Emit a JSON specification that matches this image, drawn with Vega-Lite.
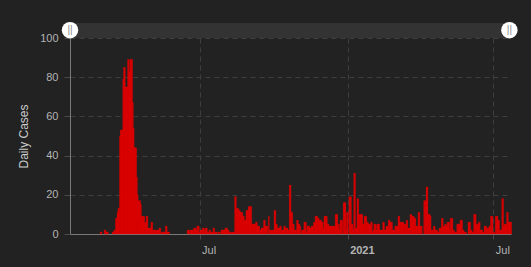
{
  "$schema": "https://vega.github.io/schema/vega-lite/v6.json",
  "width": 441,
  "height": 196,
  "autosize": {"type": "none"},
  "padding": {"left": 70, "top": 38, "right": 20, "bottom": 33},
  "background": "#222222",
  "config": {
    "view": {"stroke": null},
    "axis": {
      "labelFont": "Liberation Sans",
      "labelFontSize": 11,
      "labelColor": "#b4b4b4",
      "gridColor": "#3e3e3e",
      "gridDash": [5, 4],
      "tickColor": "#4a4a4a",
      "domainColor": "#7a7a7a",
      "titleFont": "Liberation Sans",
      "labelOverlap": false
    },
    "axisY": {
      "title": "Daily Cases",
      "values": [0, 20, 40, 60, 80, 100],
      "grid": true,
      "tickSize": 6,
      "labelPadding": 6,
      "titleColor": "#cccccc",
      "titleFontSize": 12,
      "titleFontWeight": "normal",
      "titlePadding": 9
    }
  },
  "layer": [
    {
      "data": {"values": [
        {"date":"2020-02-28","cases":1},{"date":"2020-02-29","cases":1},
        {"date":"2020-03-04","cases":2},{"date":"2020-03-05","cases":2},{"date":"2020-03-06","cases":1},{"date":"2020-03-07","cases":1},{"date":"2020-03-08","cases":1},{"date":"2020-03-14","cases":1},{"date":"2020-03-15","cases":1},{"date":"2020-03-16","cases":2},{"date":"2020-03-17","cases":2},{"date":"2020-03-18","cases":8},{"date":"2020-03-19","cases":8},{"date":"2020-03-20","cases":11},{"date":"2020-03-21","cases":13},{"date":"2020-03-22","cases":13},{"date":"2020-03-23","cases":50},{"date":"2020-03-24","cases":53},{"date":"2020-03-25","cases":53},{"date":"2020-03-26","cases":53},{"date":"2020-03-27","cases":79},{"date":"2020-03-28","cases":85},{"date":"2020-03-29","cases":85},{"date":"2020-03-30","cases":75},{"date":"2020-03-31","cases":75},
        {"date":"2020-04-01","cases":75},{"date":"2020-04-02","cases":89},{"date":"2020-04-03","cases":89},{"date":"2020-04-04","cases":83},{"date":"2020-04-05","cases":89},{"date":"2020-04-06","cases":89},{"date":"2020-04-07","cases":89},{"date":"2020-04-08","cases":67},{"date":"2020-04-09","cases":54},{"date":"2020-04-10","cases":44},{"date":"2020-04-11","cases":44},{"date":"2020-04-12","cases":44},{"date":"2020-04-13","cases":29},{"date":"2020-04-14","cases":20},{"date":"2020-04-15","cases":17},{"date":"2020-04-16","cases":17},{"date":"2020-04-17","cases":17},{"date":"2020-04-18","cases":15},{"date":"2020-04-19","cases":9},{"date":"2020-04-20","cases":9},{"date":"2020-04-21","cases":9},{"date":"2020-04-22","cases":9},{"date":"2020-04-23","cases":6},{"date":"2020-04-24","cases":6},{"date":"2020-04-25","cases":9},{"date":"2020-04-26","cases":9},{"date":"2020-04-27","cases":3},{"date":"2020-04-28","cases":3},{"date":"2020-04-29","cases":3},{"date":"2020-04-30","cases":3},
        {"date":"2020-05-01","cases":6},{"date":"2020-05-02","cases":6},{"date":"2020-05-03","cases":2},{"date":"2020-05-04","cases":2},{"date":"2020-05-05","cases":2},{"date":"2020-05-06","cases":2},{"date":"2020-05-07","cases":2},{"date":"2020-05-08","cases":2},{"date":"2020-05-09","cases":2},{"date":"2020-05-10","cases":2},{"date":"2020-05-11","cases":3},{"date":"2020-05-12","cases":3},{"date":"2020-05-14","cases":1},{"date":"2020-05-15","cases":1},{"date":"2020-05-16","cases":1},{"date":"2020-05-17","cases":1},{"date":"2020-05-18","cases":1},{"date":"2020-05-19","cases":4},{"date":"2020-05-20","cases":4},{"date":"2020-05-21","cases":1},{"date":"2020-05-22","cases":1},{"date":"2020-05-23","cases":1},
        {"date":"2020-06-15","cases":2},{"date":"2020-06-16","cases":2},{"date":"2020-06-17","cases":1},{"date":"2020-06-18","cases":2},{"date":"2020-06-19","cases":2},{"date":"2020-06-20","cases":2},{"date":"2020-06-21","cases":2},{"date":"2020-06-22","cases":2},{"date":"2020-06-23","cases":3},{"date":"2020-06-24","cases":3},{"date":"2020-06-25","cases":3},{"date":"2020-06-26","cases":2},{"date":"2020-06-27","cases":4},{"date":"2020-06-28","cases":4},{"date":"2020-06-29","cases":4},{"date":"2020-06-30","cases":1},
        {"date":"2020-07-01","cases":2},{"date":"2020-07-02","cases":2},{"date":"2020-07-03","cases":2},{"date":"2020-07-04","cases":3},{"date":"2020-07-05","cases":3},{"date":"2020-07-06","cases":2},{"date":"2020-07-07","cases":3},{"date":"2020-07-08","cases":3},{"date":"2020-07-09","cases":3},{"date":"2020-07-10","cases":1},{"date":"2020-07-11","cases":1},{"date":"2020-07-12","cases":2},{"date":"2020-07-13","cases":2},{"date":"2020-07-14","cases":1},{"date":"2020-07-15","cases":1},{"date":"2020-07-16","cases":1},{"date":"2020-07-17","cases":3},{"date":"2020-07-18","cases":3},{"date":"2020-07-19","cases":1},{"date":"2020-07-20","cases":1},{"date":"2020-07-21","cases":1},{"date":"2020-07-23","cases":1},{"date":"2020-07-24","cases":1},{"date":"2020-07-25","cases":1},{"date":"2020-07-27","cases":2},{"date":"2020-07-28","cases":2},{"date":"2020-07-29","cases":2},{"date":"2020-07-30","cases":2},{"date":"2020-07-31","cases":2},
        {"date":"2020-08-01","cases":3},{"date":"2020-08-02","cases":3},{"date":"2020-08-03","cases":3},{"date":"2020-08-04","cases":2},{"date":"2020-08-05","cases":2},{"date":"2020-08-06","cases":1},{"date":"2020-08-07","cases":1},{"date":"2020-08-08","cases":1},{"date":"2020-08-10","cases":1},{"date":"2020-08-11","cases":1},{"date":"2020-08-12","cases":1},{"date":"2020-08-13","cases":19},{"date":"2020-08-14","cases":19},{"date":"2020-08-15","cases":13},{"date":"2020-08-16","cases":13},{"date":"2020-08-17","cases":13},{"date":"2020-08-18","cases":12},{"date":"2020-08-19","cases":12},{"date":"2020-08-20","cases":11},{"date":"2020-08-21","cases":11},{"date":"2020-08-22","cases":11},{"date":"2020-08-23","cases":9},{"date":"2020-08-24","cases":9},{"date":"2020-08-25","cases":7},{"date":"2020-08-26","cases":7},{"date":"2020-08-27","cases":12},{"date":"2020-08-28","cases":12},{"date":"2020-08-29","cases":12},{"date":"2020-08-30","cases":14},{"date":"2020-08-31","cases":14},
        {"date":"2020-09-01","cases":14},{"date":"2020-09-02","cases":14},{"date":"2020-09-03","cases":5},{"date":"2020-09-04","cases":5},{"date":"2020-09-05","cases":5},{"date":"2020-09-06","cases":5},{"date":"2020-09-07","cases":5},{"date":"2020-09-08","cases":6},{"date":"2020-09-09","cases":6},{"date":"2020-09-10","cases":4},{"date":"2020-09-11","cases":4},{"date":"2020-09-12","cases":4},{"date":"2020-09-13","cases":2},{"date":"2020-09-14","cases":2},{"date":"2020-09-15","cases":3},{"date":"2020-09-16","cases":3},{"date":"2020-09-17","cases":3},{"date":"2020-09-18","cases":7},{"date":"2020-09-19","cases":7},{"date":"2020-09-20","cases":4},{"date":"2020-09-21","cases":4},{"date":"2020-09-22","cases":4},{"date":"2020-09-24","cases":9},{"date":"2020-09-25","cases":2},{"date":"2020-09-26","cases":2},{"date":"2020-09-27","cases":2},{"date":"2020-09-28","cases":2},{"date":"2020-09-29","cases":2},{"date":"2020-09-30","cases":2},
        {"date":"2020-10-01","cases":12},{"date":"2020-10-02","cases":12},{"date":"2020-10-03","cases":5},{"date":"2020-10-04","cases":5},{"date":"2020-10-05","cases":3},{"date":"2020-10-06","cases":3},{"date":"2020-10-07","cases":3},{"date":"2020-10-08","cases":4},{"date":"2020-10-09","cases":4},{"date":"2020-10-10","cases":2},{"date":"2020-10-11","cases":2},{"date":"2020-10-12","cases":2},{"date":"2020-10-13","cases":4},{"date":"2020-10-14","cases":4},{"date":"2020-10-15","cases":3},{"date":"2020-10-16","cases":3},{"date":"2020-10-17","cases":3},{"date":"2020-10-18","cases":2},{"date":"2020-10-19","cases":2},{"date":"2020-10-20","cases":25},{"date":"2020-10-21","cases":25},{"date":"2020-10-22","cases":11},{"date":"2020-10-23","cases":11},{"date":"2020-10-24","cases":5},{"date":"2020-10-25","cases":5},{"date":"2020-10-26","cases":2},{"date":"2020-10-27","cases":2},{"date":"2020-10-28","cases":2},{"date":"2020-10-29","cases":7},{"date":"2020-10-30","cases":7},{"date":"2020-10-31","cases":5},
        {"date":"2020-11-01","cases":5},{"date":"2020-11-02","cases":4},{"date":"2020-11-04","cases":2},{"date":"2020-11-05","cases":2},{"date":"2020-11-06","cases":2},{"date":"2020-11-07","cases":6},{"date":"2020-11-08","cases":6},{"date":"2020-11-09","cases":6},{"date":"2020-11-10","cases":1},{"date":"2020-11-11","cases":4},{"date":"2020-11-12","cases":4},{"date":"2020-11-13","cases":4},{"date":"2020-11-14","cases":3},{"date":"2020-11-15","cases":3},{"date":"2020-11-16","cases":4},{"date":"2020-11-17","cases":4},{"date":"2020-11-18","cases":4},{"date":"2020-11-19","cases":6},{"date":"2020-11-20","cases":6},{"date":"2020-11-21","cases":9},{"date":"2020-11-22","cases":9},{"date":"2020-11-23","cases":9},{"date":"2020-11-24","cases":8},{"date":"2020-11-25","cases":8},{"date":"2020-11-26","cases":7},{"date":"2020-11-27","cases":7},{"date":"2020-11-28","cases":7},{"date":"2020-11-29","cases":6},{"date":"2020-11-30","cases":6},
        {"date":"2020-12-01","cases":3},{"date":"2020-12-02","cases":9},{"date":"2020-12-03","cases":9},{"date":"2020-12-04","cases":9},{"date":"2020-12-05","cases":9},{"date":"2020-12-06","cases":5},{"date":"2020-12-07","cases":5},{"date":"2020-12-08","cases":4},{"date":"2020-12-09","cases":4},{"date":"2020-12-10","cases":4},{"date":"2020-12-11","cases":4},{"date":"2020-12-12","cases":4},{"date":"2020-12-13","cases":4},{"date":"2020-12-14","cases":4},{"date":"2020-12-15","cases":4},{"date":"2020-12-16","cases":10},{"date":"2020-12-17","cases":10},{"date":"2020-12-18","cases":10},{"date":"2020-12-19","cases":5},{"date":"2020-12-20","cases":5},{"date":"2020-12-21","cases":2},{"date":"2020-12-22","cases":7},{"date":"2020-12-23","cases":7},{"date":"2020-12-24","cases":7},{"date":"2020-12-26","cases":16},{"date":"2020-12-27","cases":16},{"date":"2020-12-28","cases":16},{"date":"2020-12-29","cases":2},{"date":"2020-12-30","cases":11},{"date":"2020-12-31","cases":11},
        {"date":"2021-01-02","cases":19},{"date":"2021-01-03","cases":19},{"date":"2021-01-04","cases":19},{"date":"2021-01-05","cases":5},{"date":"2021-01-06","cases":5},{"date":"2021-01-07","cases":2},{"date":"2021-01-08","cases":31},{"date":"2021-01-09","cases":31},{"date":"2021-01-10","cases":3},{"date":"2021-01-11","cases":3},{"date":"2021-01-12","cases":18},{"date":"2021-01-13","cases":18},{"date":"2021-01-14","cases":10},{"date":"2021-01-15","cases":10},{"date":"2021-01-16","cases":10},{"date":"2021-01-17","cases":10},{"date":"2021-01-18","cases":10},{"date":"2021-01-19","cases":5},{"date":"2021-01-20","cases":5},{"date":"2021-01-21","cases":9},{"date":"2021-01-22","cases":9},{"date":"2021-01-23","cases":9},{"date":"2021-01-24","cases":6},{"date":"2021-01-25","cases":6},{"date":"2021-01-26","cases":5},{"date":"2021-01-27","cases":5},{"date":"2021-01-28","cases":5},{"date":"2021-01-29","cases":6},{"date":"2021-01-30","cases":6},{"date":"2021-01-31","cases":1},
        {"date":"2021-02-01","cases":2},{"date":"2021-02-02","cases":5},{"date":"2021-02-03","cases":5},{"date":"2021-02-04","cases":5},{"date":"2021-02-05","cases":2},{"date":"2021-02-06","cases":5},{"date":"2021-02-07","cases":5},{"date":"2021-02-08","cases":5},{"date":"2021-02-09","cases":2},{"date":"2021-02-10","cases":2},{"date":"2021-02-11","cases":2},{"date":"2021-02-12","cases":2},{"date":"2021-02-13","cases":6},{"date":"2021-02-14","cases":6},{"date":"2021-02-15","cases":2},{"date":"2021-02-16","cases":2},{"date":"2021-02-17","cases":4},{"date":"2021-02-18","cases":4},{"date":"2021-02-19","cases":4},{"date":"2021-02-20","cases":7},{"date":"2021-02-21","cases":7},{"date":"2021-02-22","cases":6},{"date":"2021-02-23","cases":6},{"date":"2021-02-24","cases":6},{"date":"2021-02-25","cases":2},{"date":"2021-02-26","cases":2},{"date":"2021-02-27","cases":2},{"date":"2021-02-28","cases":4},
        {"date":"2021-03-01","cases":4},{"date":"2021-03-02","cases":4},{"date":"2021-03-03","cases":4},{"date":"2021-03-04","cases":9},{"date":"2021-03-05","cases":9},{"date":"2021-03-06","cases":6},{"date":"2021-03-07","cases":6},{"date":"2021-03-08","cases":6},{"date":"2021-03-09","cases":6},{"date":"2021-03-10","cases":6},{"date":"2021-03-11","cases":5},{"date":"2021-03-12","cases":5},{"date":"2021-03-13","cases":5},{"date":"2021-03-14","cases":7},{"date":"2021-03-15","cases":7},{"date":"2021-03-16","cases":3},{"date":"2021-03-17","cases":3},{"date":"2021-03-18","cases":3},{"date":"2021-03-19","cases":10},{"date":"2021-03-20","cases":10},{"date":"2021-03-21","cases":9},{"date":"2021-03-22","cases":9},{"date":"2021-03-23","cases":9},{"date":"2021-03-24","cases":8},{"date":"2021-03-25","cases":8},{"date":"2021-03-26","cases":4},{"date":"2021-03-27","cases":4},{"date":"2021-03-28","cases":4},{"date":"2021-03-29","cases":11},{"date":"2021-03-30","cases":11},{"date":"2021-03-31","cases":4},
        {"date":"2021-04-01","cases":4},{"date":"2021-04-02","cases":4},{"date":"2021-04-05","cases":17},{"date":"2021-04-06","cases":17},{"date":"2021-04-07","cases":17},{"date":"2021-04-08","cases":24},{"date":"2021-04-09","cases":24},{"date":"2021-04-10","cases":10},{"date":"2021-04-11","cases":10},{"date":"2021-04-12","cases":10},{"date":"2021-04-13","cases":9},{"date":"2021-04-14","cases":2},{"date":"2021-04-15","cases":2},{"date":"2021-04-16","cases":2},{"date":"2021-04-17","cases":4},{"date":"2021-04-18","cases":4},{"date":"2021-04-19","cases":2},{"date":"2021-04-20","cases":2},{"date":"2021-04-21","cases":2},{"date":"2021-04-22","cases":1},{"date":"2021-04-23","cases":1},{"date":"2021-04-24","cases":3},{"date":"2021-04-25","cases":3},{"date":"2021-04-26","cases":3},{"date":"2021-04-27","cases":8},{"date":"2021-04-28","cases":8},{"date":"2021-04-29","cases":4},{"date":"2021-04-30","cases":4},
        {"date":"2021-05-01","cases":5},{"date":"2021-05-02","cases":5},{"date":"2021-05-03","cases":4},{"date":"2021-05-04","cases":6},{"date":"2021-05-05","cases":6},{"date":"2021-05-06","cases":6},{"date":"2021-05-07","cases":2},{"date":"2021-05-08","cases":8},{"date":"2021-05-09","cases":8},{"date":"2021-05-10","cases":8},{"date":"2021-05-11","cases":2},{"date":"2021-05-12","cases":2},{"date":"2021-05-13","cases":1},{"date":"2021-05-14","cases":1},{"date":"2021-05-15","cases":1},{"date":"2021-05-16","cases":5},{"date":"2021-05-17","cases":5},{"date":"2021-05-18","cases":5},{"date":"2021-05-19","cases":5},{"date":"2021-05-20","cases":7},{"date":"2021-05-21","cases":7},{"date":"2021-05-22","cases":7},{"date":"2021-05-23","cases":2},{"date":"2021-05-24","cases":2},{"date":"2021-05-25","cases":1},{"date":"2021-05-26","cases":1},{"date":"2021-05-27","cases":1},{"date":"2021-05-30","cases":6},{"date":"2021-05-31","cases":6},
        {"date":"2021-06-01","cases":6},{"date":"2021-06-02","cases":2},{"date":"2021-06-03","cases":2},{"date":"2021-06-04","cases":1},{"date":"2021-06-05","cases":1},{"date":"2021-06-06","cases":10},{"date":"2021-06-07","cases":10},{"date":"2021-06-08","cases":10},{"date":"2021-06-09","cases":5},{"date":"2021-06-10","cases":5},{"date":"2021-06-11","cases":5},{"date":"2021-06-12","cases":6},{"date":"2021-06-13","cases":6},{"date":"2021-06-14","cases":2},{"date":"2021-06-15","cases":2},{"date":"2021-06-16","cases":2},{"date":"2021-06-17","cases":1},{"date":"2021-06-18","cases":1},{"date":"2021-06-19","cases":4},{"date":"2021-06-20","cases":4},{"date":"2021-06-21","cases":4},{"date":"2021-06-22","cases":3},{"date":"2021-06-23","cases":3},{"date":"2021-06-24","cases":3},{"date":"2021-06-25","cases":4},{"date":"2021-06-26","cases":4},{"date":"2021-06-27","cases":9},{"date":"2021-06-28","cases":9},{"date":"2021-06-29","cases":9},{"date":"2021-06-30","cases":1},
        {"date":"2021-07-01","cases":1},{"date":"2021-07-03","cases":9},{"date":"2021-07-04","cases":9},{"date":"2021-07-05","cases":9},{"date":"2021-07-06","cases":7},{"date":"2021-07-07","cases":7},{"date":"2021-07-08","cases":2},{"date":"2021-07-09","cases":2},{"date":"2021-07-10","cases":2},{"date":"2021-07-11","cases":18},{"date":"2021-07-12","cases":18},{"date":"2021-07-13","cases":4},{"date":"2021-07-14","cases":5},{"date":"2021-07-15","cases":5},{"date":"2021-07-16","cases":5},{"date":"2021-07-17","cases":11},{"date":"2021-07-18","cases":11},{"date":"2021-07-19","cases":6},{"date":"2021-07-20","cases":6},{"date":"2021-07-21","cases":6},{"date":"2021-07-22","cases":6}
      ]},
      "mark": {"type": "bar", "color": "#e60000", "binSpacing": 0, "stroke": "#e60000", "strokeWidth": 0.4},
      "encoding": {
        "x": {
          "field": "date", "type": "temporal", "timeUnit": "utcyearmonthdate",
          "scale": {"type": "utc", "domain": [{"year": 2020, "month": 1, "date": 22, "utc": true}, {"year": 2021, "month": 7, "date": 23, "utc": true}]},
          "axis": {
            "title": null,
            "grid": true,
            "tickCount": {"interval": "month", "step": 6},
            "tickSize": 5,
            "labelAlign": "left",
            "labelOffset": 2,
            "labelPadding": 5,
            "labelFlush": false,
            "labelExpr": "utcmonth(datum.value) === 0 ? utcFormat(datum.value, '%Y') : utcFormat(datum.value, '%b')",
            "labelFontWeight": {"condition": {"test": "utcmonth(datum.value) === 0", "value": "bold"}, "value": "normal"}
          }
        },
        "y": {
          "field": "cases", "type": "quantitative",
          "scale": {"domain": [0, 100], "nice": false},
          "axis": {"title": "Daily Cases", "values": [0, 20, 40, 60, 80, 100]}
        }
      }
    },
    {
      "data": {"values": [{}]},
      "mark": {"type": "rect", "color": "#333333", "clip": false},
      "encoding": {
        "x": {"datum": {"year": 2020, "month": 1, "date": 22, "utc": true}, "type": "temporal"},
        "x2": {"datum": {"year": 2021, "month": 7, "date": 21, "utc": true}},
        "y": {"datum": 100, "type": "quantitative", "axis": {"title": "Daily Cases", "values": [0, 20, 40, 60, 80, 100]}},
        "y2": {"datum": 107.6}
      }
    },
    {
      "data": {"values": [{}]},
      "mark": {"type": "point", "filled": true, "color": "#ffffff", "opacity": 1, "size": 270, "clip": false},
      "encoding": {
        "x": {"datum": {"year": 2020, "month": 1, "date": 22, "utc": true}, "type": "temporal"},
        "y": {"datum": 104, "type": "quantitative", "axis": {"title": "Daily Cases", "values": [0, 20, 40, 60, 80, 100]}}
      }
    },
    {
      "data": {"values": [{}]},
      "mark": {"type": "point", "filled": true, "color": "#ffffff", "opacity": 1, "size": 270, "clip": false},
      "encoding": {
        "x": {"datum": {"year": 2021, "month": 7, "date": 21, "utc": true}, "type": "temporal"},
        "y": {"datum": 104, "type": "quantitative", "axis": {"title": "Daily Cases", "values": [0, 20, 40, 60, 80, 100]}}
      }
    },
    {
      "data": {"values": [{}]},
      "mark": {"type": "text", "text": "||", "color": "#8a8a8a", "fontSize": 10, "font": "Liberation Sans", "align": "center", "baseline": "middle", "clip": false},
      "encoding": {
        "x": {"datum": {"year": 2020, "month": 1, "date": 22, "utc": true}, "type": "temporal"},
        "y": {"datum": 104, "type": "quantitative", "axis": {"title": "Daily Cases", "values": [0, 20, 40, 60, 80, 100]}}
      }
    },
    {
      "data": {"values": [{}]},
      "mark": {"type": "text", "text": "||", "color": "#8a8a8a", "fontSize": 10, "font": "Liberation Sans", "align": "center", "baseline": "middle", "clip": false},
      "encoding": {
        "x": {"datum": {"year": 2021, "month": 7, "date": 21, "utc": true}, "type": "temporal"},
        "y": {"datum": 104, "type": "quantitative", "axis": {"title": "Daily Cases", "values": [0, 20, 40, 60, 80, 100]}}
      }
    }
  ]
}
